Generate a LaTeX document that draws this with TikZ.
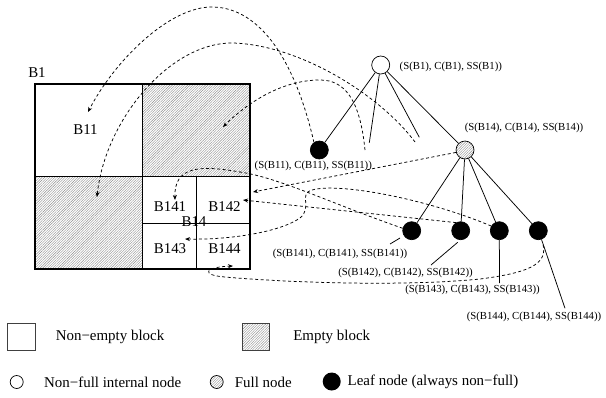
\documentclass[tikz,border=0pt]{standalone}
\usepackage{fontspec}
\setmainfont{Liberation Serif}
\usetikzlibrary{patterns.meta,arrows.meta}
\begin{document}
\begin{tikzpicture}[x=1bp,y=-1bp,
  lbl/.style={font=\fontsize{15}{18}\selectfont, inner sep=0pt},
  small/.style={font=\fontsize{10.8}{13}\selectfont, inner sep=0pt},
  hatch/.style={pattern={Lines[angle=45,distance=1.8pt,line width=0.4pt]}, pattern color=black!45},
  tnode/.style={circle, draw, line width=0.7bp, minimum size=18bp, inner sep=0pt},
  edge/.style={line width=0.75bp},
  dsh/.style={line width=0.75bp, dash pattern=on 3bp off 2.5bp, -{Stealth[length=5bp,width=4bp]}}
]
\useasboundingbox (0,0) rectangle (606,397);

% ---- blocks ----
\path[hatch] (142.7,84) rectangle (250,176.7);
\path[hatch] (35,176.7) rectangle (142.7,269);
\draw[line width=1.3bp] (35,84) rectangle (250,269);
\draw[line width=1.1bp] (142.7,84) -- (142.7,269) (35,176.7) -- (250,176.7);
\draw[line width=0.9bp] (196.3,176.7) -- (196.3,269) (142.7,223) -- (250,223);

\node[lbl] (tB1) at (37,72.5) {B1};
\node[lbl] (tB11) at (85.5,130) {B11};
\node[lbl] (tB141) at (170,207) {B141};
\node[lbl] (tB142) at (224.5,207) {B142};
\node[lbl] (tB14) at (194,222) {B14};
\node[lbl] (tB143) at (170,249) {B143};
\node[lbl] (tB144) at (224.5,249) {B144};

% arrow targets
\coordinate (aB11) at (88,112);
\coordinate (aB12) at (223,127);
\coordinate (aB13) at (97,197);
\coordinate (aB14) at (253,192);
\coordinate (aB141) at (175,200);
\coordinate (aB142) at (243,200);
\coordinate (aB143) at (185,239);
\coordinate (aB144) at (233,266);

% ---- tree ----
\node[tnode, fill=white] (root) at (380.7,65) {};
\node[tnode, fill=black] (l11) at (319.3,150) {};
\node[tnode, hatch] (n14) at (465,150) {};
\node[tnode, fill=black] (l141) at (411.7,230.7) {};
\node[tnode, fill=black] (l142) at (460.7,230.7) {};
\node[tnode, fill=black] (l143) at (499.3,230.7) {};
\node[tnode, fill=black] (l144) at (538.3,230.7) {};
\coordinate (c12) at (369.3,142.7);
\coordinate (c13) at (419.3,137.3);
\coordinate (d12) at (365,150);
\coordinate (d13) at (415,142);

\draw[edge] (root) -- (l11);
\draw[edge] (root) -- (c12);
\draw[edge] (root) -- (c13);
\draw[edge] (root) -- (n14);
\draw[edge] (n14) -- (l141);
\draw[edge] (n14) -- (l142);
\draw[edge] (n14) -- (l143);
\draw[edge] (n14) -- (l144);

\node[small, anchor=west] (s1) at (399.5,66.5) {(S(B1), C(B1), SS(B1))};
\node[small] (s11) at (313.3,166) {(S(B11), C(B11), SS(B11))};
\node[small] (s14) at (524,128) {(S(B14), C(B14), SS(B14))};
\node[small] (s141) at (340,254) {(S(B141), C(B141), SS(B141))};
\node[small] (s142) at (405.5,273) {(S(B142), C(B142), SS(B142))};
\node[small] (s143) at (472.5,290) {(S(B143), C(B143), SS(B143))};
\node[small] (s144) at (534,316.7) {(S(B144), C(B144), SS(B144))};

\coordinate (k141a) at (390,244);
\coordinate (k141b) at (400,238);
\coordinate (k142a) at (431,265);
\coordinate (k142b) at (457.7,242.3);
\coordinate (k143) at (499.6,283);
\coordinate (k144a) at (542.3,241.7);
\coordinate (k144b) at (565,308.3);
\draw[edge] (k141a) -- (k141b);
\draw[edge] (k142a) -- (k142b);
\draw[edge] (l143.south) -- (k143);
\draw[edge] (k144a) -- (k144b);

% ---- dashed pointers ----
\draw[dsh] (l11.125) .. controls (295,60) and (260,8) .. (213,7) .. controls (170,6) and (115,60) .. (aB11);
\draw[dsh] (d12) .. controls (360,100) and (345,80) .. (320,80) .. controls (280,80) and (245,105) .. (aB12);
\draw[dsh] (d13) .. controls (380,95) and (300,45) .. (233,43) .. controls (170,42) and (105,120) .. (aB13);
\draw[dsh] (n14.195) -- (aB14);
\draw[dsh] (l141.165) .. controls (330,203) and (280,178) .. (240,172) .. controls (200,165) and (174,166) .. (aB141);
\draw[dsh] (l142.120) -- (aB142);
\draw[dsh] (l143.150) .. controls (430,200) and (340,182) .. (312,190) .. controls (298,194) and (313,207) .. (300,218) .. controls (280,232) and (230,240) .. (aB143);
\draw[dsh] (l144.-70) .. controls (550,262) and (535,272) .. (480,279) .. controls (400,287) and (280,282) .. (225,277) .. controls (200,275) and (205,267) .. (aB144);

% ---- legend ----
\node[draw=black!75, line width=0.7bp, minimum width=27.7bp, minimum height=27bp, inner sep=0pt] (lg1) at (21.2,336.5) {};
\node[lbl] (lg1t) at (110,337) {Non−empty block};
\node[draw=black!75, line width=0.7bp, hatch, minimum width=27bp, minimum height=27bp, inner sep=0pt] (lg2) at (255.5,336.5) {};
\node[lbl] (lg2t) at (331.7,337) {Empty block};
\node[circle, draw, line width=0.7bp, minimum size=13bp, inner sep=0pt] (lg3) at (16.7,382) {};
\node[lbl] (lg3t) at (112.7,382) {Non−full internal node};
\node[circle, draw, line width=0.7bp, hatch, minimum size=13bp, inner sep=0pt] (lg4) at (216.7,382) {};
\node[lbl] (lg4t) at (263.3,382) {Full node};
\node[circle, fill=black, minimum size=18bp, inner sep=0pt] (lg5) at (331.7,381.5) {};
\node[lbl] (lg5t) at (433,381.5) {Leaf node (always non−full)};
\end{tikzpicture}
\end{document}
